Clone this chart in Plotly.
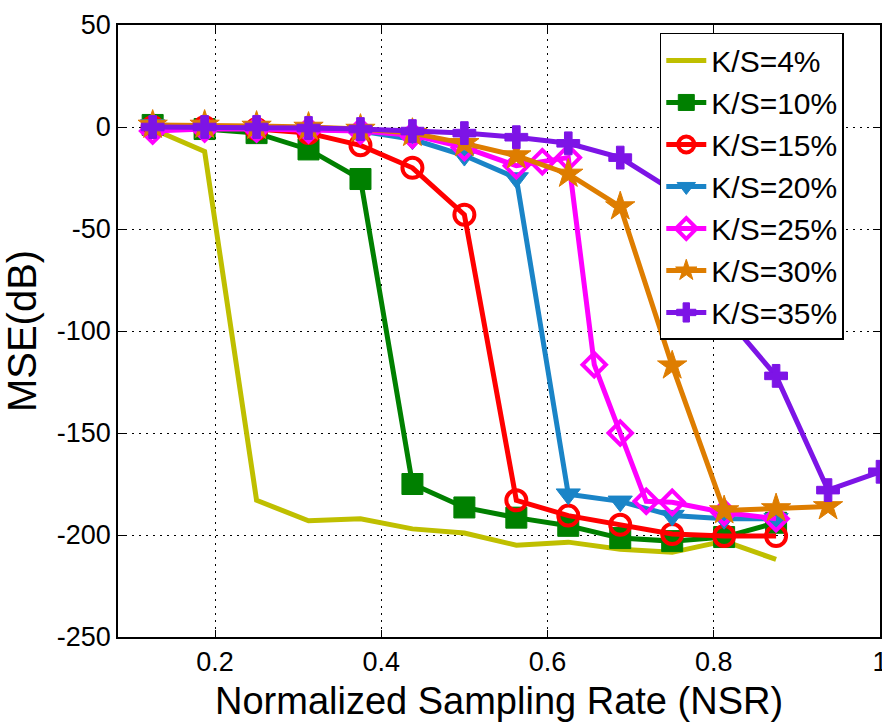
import plotly.graph_objects as go

# ---- data ----
nsr = [0.125, 0.1875, 0.25, 0.3125, 0.375, 0.4375, 0.5, 0.5625, 0.625, 0.6875,
       0.75, 0.8125, 0.875, 0.9375, 1.0]

x_4 = nsr[:13]
y_4 = [-1, -12, -183, -193, -192, -197, -199, -205, -203.5, -207, -208.5, -203, -212]

x_10 = nsr[:13]
y_10 = [1, -1, -3, -11, -25.5, -175, -186.5, -191.5, -195.5, -201.5, -203, -201, -194]

x_15 = nsr[:13]
y_15 = [0, 0, -1, -3, -9, -20, -43, -183, -190.5, -195, -199.5, -200.5, -200.5]

x_20 = nsr[:13]
y_20 = [1, 0.5, 0, -1, -2, -6, -14, -25, -180, -183.5, -190.5, -192, -192]

x_25 = [0.125, 0.1875, 0.25, 0.3125, 0.375, 0.4375, 0.5, 0.5625, 0.59375, 0.625,
        0.65625, 0.6875, 0.71875, 0.75, 0.8125, 0.875]
y_25 = [-2, -1, -1, -1.5, -2, -4, -10, -19, -17, -15,
        -116.5, -150, -183.5, -184, -189, -192]

x_30 = nsr[:14]
y_30 = [1, 1, 0.5, 0, -1, -3, -8, -14, -23, -39, -117, -188, -187, -186]

x_35 = nsr
y_35 = [0, 0, 0, -0.5, -1, -2, -3, -5, -8, -15, -31, -92, -122, -178, -169]

names = ["K/S=4%", "K/S=10%", "K/S=15%", "K/S=20%", "K/S=25%", "K/S=30%", "K/S=35%"]
xs = [x_4, x_10, x_15, x_20, x_25, x_30, x_35]
ys = [y_4, y_10, y_15, y_20, y_25, y_30, y_35]
colors = ["#BFBF00", "#008000", "#FF0000", "#1A84C7", "#FF00FF", "#DE7D00", "#7D14E6"]
symbols = [None, "square", "circle-open", "triangle-down", "diamond-open", "star", "cross"]
msizes = [0, 21, 20, 21, 18, 22, 19]

x_ticks = [0.2, 0.4, 0.6, 0.8, 1.0]
x_ticklabels = ["0.2", "0.4", "0.6", "0.8", "1"]
y_ticks = [-250, -200, -150, -100, -50, 0, 50]
y_ticklabels = ["-250", "-200", "-150", "-100", "-50", "0", "50"]

fig = go.Figure()
for name, x, y, c, s, ms in zip(names, xs, ys, colors, symbols, msizes):
    if s is None:
        fig.add_trace(go.Scatter(x=x, y=y, name=name, mode="lines",
                                 line=dict(color=c, width=5)))
    else:
        mk = dict(symbol=s, size=ms, color=c)
        if s.endswith("-open"):
            mk["line"] = dict(color=c, width=4)
        else:
            mk["line"] = dict(color=c, width=1)
        fig.add_trace(go.Scatter(x=x, y=y, name=name, mode="lines+markers",
                                 line=dict(color=c, width=5), marker=mk))

font_family = "Liberation Sans, Arial, sans-serif"
fig.update_layout(
    width=882, height=724,
    margin=dict(l=118, r=2, t=25, b=87),
    paper_bgcolor="white", plot_bgcolor="white",
    font=dict(family=font_family, color="black", size=27),
    showlegend=True,
    legend=dict(x=0.711, y=0.987, xanchor="left", yanchor="top",
                bgcolor="white", bordercolor="black", borderwidth=1.5,
                font=dict(size=30, family=font_family), tracegroupgap=0,
                itemwidth=40),
    annotations=[dict(text="Normalized Sampling Rate (NSR)", xref="paper", yref="paper",
                      x=0.5, y=0, xanchor="center", yanchor="middle", yshift=-64,
                      showarrow=False, font=dict(size=38, family=font_family))],
)
fig.update_xaxes(
    range=[0.0833, 1.0], tickvals=x_ticks, ticktext=x_ticklabels,
    showline=True, linecolor="black", linewidth=1.5, mirror="ticks",
    ticks="inside", ticklen=7, tickcolor="black", tickwidth=1,
    showgrid=True, gridcolor="black", gridwidth=1.2, griddash="2px,5px",
    zeroline=False, automargin=False, ticklabeloverflow="allow",
    tickfont=dict(size=27),
)
fig.update_yaxes(
    range=[-250, 50], tickvals=y_ticks, ticktext=y_ticklabels,
    showline=True, linecolor="black", linewidth=1.5, mirror="ticks",
    ticks="inside", ticklen=7, tickcolor="black", tickwidth=1,
    showgrid=True, gridcolor="black", gridwidth=1.2, griddash="2px,5px",
    zeroline=False, automargin=False,
    tickfont=dict(size=27),
    title=dict(text="MSE(dB)", font=dict(size=40), standoff=10),
)
fig.write_html("out.html")
